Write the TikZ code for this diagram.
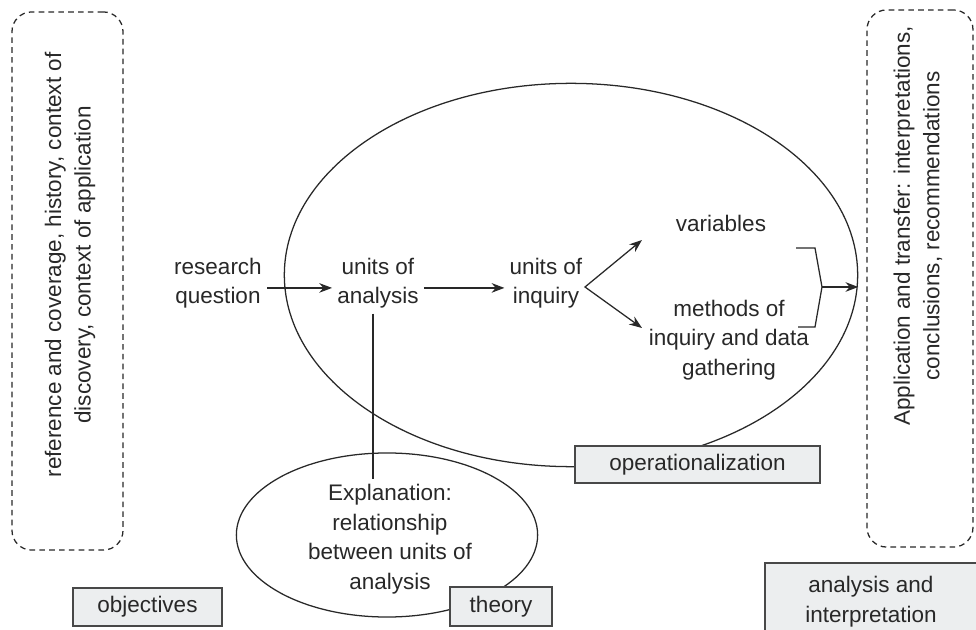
\documentclass[tikz,border=0pt]{standalone}
\usepackage{fontspec}
\setmainfont{Liberation Sans}
\usepackage{xcolor}
\usetikzlibrary{shapes.geometric,arrows.meta}
\definecolor{boxgray}{RGB}{236,238,239}
\definecolor{inkgray}{RGB}{40,40,40}

\begin{document}
\begin{tikzpicture}[x=0.025cm, y=-0.025cm, line width=0.9pt, color=inkgray,
  every node/.style={font=\fontsize{16}{21}\selectfont, align=center},
  labelbox/.style={draw=inkgray!85, fill=boxgray, inner sep=0pt},
  frame/.style={draw, dash pattern=on 4pt off 3pt, rounded corners=14pt, inner sep=0pt},
  >={Stealth[length=3.2mm, width=2.4mm]}]
\useasboundingbox (0,0) rectangle (976,630);

\node[frame, minimum width=2.775cm, minimum height=13.45cm] (ctxbox) at (67.5,281) {};
\node[frame, minimum width=2.65cm, minimum height=13.425cm] (appbox) at (920,278.5) {};
\node[rotate=90] (ctxtext) at (70,265) {reference and coverage, history, context of\\discovery, context of application};
\node[rotate=90] (apptext) at (918,226) {Application and transfer: interpretations,\\conclusions, recommendations};

\node[ellipse, draw, minimum width=14.33cm, minimum height=9.58cm, inner sep=0pt] (operel) at (571,275) {};
\node[ellipse, draw, minimum width=7.53cm, minimum height=4.1cm, inner sep=0pt] (theoel) at (387,535) {};

\node (question) at (218,283) {research\\question};
\node (analysis) at (378,283) {units of\\analysis};
\node (inquiry) at (546,283) {units of\\inquiry};
\node (variables) at (721,223) {variables};
\node (methods) at (729,340) {methods of\\inquiry and data\\gathering};
\node (explain) at (390,539) {Explanation:\\relationship\\between units of\\analysis};

\node[labelbox, minimum width=3.725cm, minimum height=0.95cm] (objectives) at (147.5,607) {objectives};
\node[labelbox, minimum width=2.55cm, minimum height=0.975cm] (theory) at (501,606.5) {theory};
\node[labelbox, minimum width=6.125cm, minimum height=0.925cm] (operational) at (697.5,464.5) {operationalization};
\node[labelbox, minimum width=5.3cm, minimum height=1.925cm] (interpret) at (871,601.5) {analysis and\\interpretation};

\coordinate (fork) at (585,287);
\coordinate (vartip) at (642,240);
\coordinate (methtip) at (642,328);
\coordinate (brktop) at (796,248);
\coordinate (brkbot) at (798,327);
\coordinate (brk) at (822,287);

\draw[->] ([yshift=-3.5pt]question.east) -- ([yshift=-3.5pt]analysis.west);
\draw[->] ([yshift=-3.5pt]analysis.east) -- ([yshift=-3.5pt]inquiry.west);
\draw[<->] (vartip) -- (fork) -- (methtip);
\draw (brktop) -- ++(19,0) -- (brk) -- (815,327) -- (brkbot);
\draw[->] (brk) -- (brk -| operel.east);
\draw ([xshift=-3.5pt]analysis.south) -- ([xshift=-3.5pt]analysis.south |- explain.north);
\end{tikzpicture}
\end{document}
